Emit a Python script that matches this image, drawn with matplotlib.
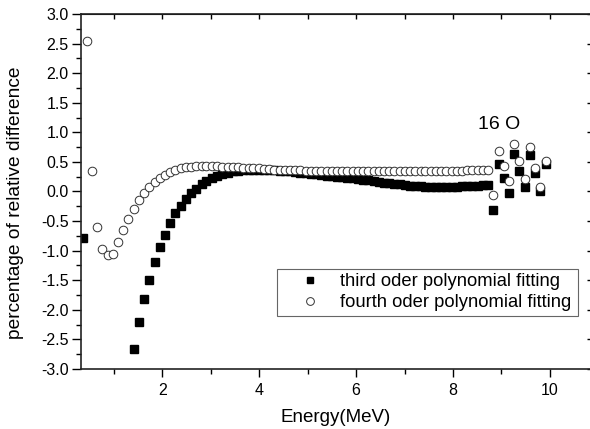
import matplotlib
matplotlib.use("Agg")
import matplotlib.pyplot as plt
from matplotlib.ticker import MultipleLocator

plt.rcParams['font.family'] = ['Liberation Sans', 'DejaVu Sans']

# energy grid (MeV) shared by both series
energy = [0.44, 0.55, 0.66, 0.76, 0.87, 0.98, 1.09, 1.19, 1.30, 1.41,
          1.52, 1.62, 1.73, 1.84, 1.95, 2.05, 2.16, 2.27, 2.38, 2.48,
          2.59, 2.70, 2.81, 2.91, 3.02, 3.13, 3.24, 3.35, 3.45, 3.56,
          3.67, 3.78, 3.88, 3.99, 4.10, 4.21, 4.31, 4.42, 4.53, 4.64,
          4.74, 4.85, 4.96, 5.07, 5.17, 5.28, 5.39, 5.50, 5.60, 5.71,
          5.82, 5.93, 6.04, 6.14, 6.25, 6.36, 6.47, 6.57, 6.68, 6.79,
          6.90, 7.00, 7.11, 7.22, 7.33, 7.43, 7.54, 7.65, 7.76, 7.86,
          7.97, 8.08, 8.19, 8.29, 8.40, 8.51, 8.62, 8.73, 8.83, 8.94,
          9.05, 9.16, 9.26, 9.37, 9.48, 9.59, 9.69, 9.80, 9.91]

# fourth order fit, relative difference (%)
fourth = [2.54, 0.34, -0.60, -0.97, -1.07, -1.06, -0.86, -0.65, -0.46, -0.29,
          -0.15, -0.03, 0.07, 0.16, 0.23, 0.28, 0.33, 0.36, 0.39, 0.41,
          0.42, 0.43, 0.43, 0.43, 0.43, 0.43, 0.42, 0.42, 0.41, 0.41,
          0.40, 0.40, 0.39, 0.39, 0.38, 0.38, 0.37, 0.37, 0.37, 0.36,
          0.36, 0.36, 0.35, 0.35, 0.35, 0.35, 0.34, 0.34, 0.34, 0.34,
          0.34, 0.34, 0.34, 0.34, 0.34, 0.34, 0.34, 0.34, 0.34, 0.34,
          0.34, 0.34, 0.34, 0.35, 0.35, 0.35, 0.35, 0.35, 0.35, 0.35,
          0.35, 0.35, 0.35, 0.36, 0.36, 0.36, 0.36, 0.36, -0.06, 0.69,
          0.43, 0.17, 0.80, 0.51, 0.21, 0.75, 0.40, 0.07, 0.51]

# third order fit (points below -3 are off the chart)
energy3 = [0.37, 1.41,
           1.52, 1.62, 1.73, 1.84, 1.95, 2.05, 2.16, 2.27, 2.38, 2.48,
           2.59, 2.70, 2.81, 2.91, 3.02, 3.13, 3.24, 3.35, 3.45, 3.56,
           3.67, 3.78, 3.88, 3.99, 4.10, 4.21, 4.31, 4.42, 4.53, 4.64,
           4.74, 4.85, 4.96, 5.07, 5.17, 5.28, 5.39, 5.50, 5.60, 5.71,
           5.82, 5.93, 6.04, 6.14, 6.25, 6.36, 6.47, 6.57, 6.68, 6.79,
           6.90, 7.00, 7.11, 7.22, 7.33, 7.43, 7.54, 7.65, 7.76, 7.86,
           7.97, 8.08, 8.19, 8.29, 8.40, 8.51, 8.62, 8.73, 8.83, 8.94,
           9.05, 9.16, 9.26, 9.37, 9.48, 9.59, 9.69, 9.80, 9.91]
third = [-0.78, -2.66,
         -2.21, -1.82, -1.49, -1.19, -0.94, -0.73, -0.54, -0.37, -0.24, -0.12,
         -0.03, 0.05, 0.12, 0.18, 0.23, 0.27, 0.30, 0.32, 0.34, 0.35,
         0.36, 0.37, 0.37, 0.37, 0.37, 0.36, 0.36, 0.35, 0.35, 0.34,
         0.33, 0.32, 0.31, 0.30, 0.29, 0.28, 0.27, 0.26, 0.25, 0.24,
         0.23, 0.22, 0.21, 0.20, 0.19, 0.17, 0.16, 0.15, 0.14, 0.13,
         0.12, 0.11, 0.10, 0.09, 0.09, 0.08, 0.08, 0.08, 0.08, 0.08,
         0.08, 0.08, 0.09, 0.09, 0.10, 0.10, 0.11, 0.11, -0.31, 0.46,
         0.22, -0.02, 0.63, 0.35, 0.07, 0.62, 0.31, 0.00, 0.47]

fig = plt.figure(figsize=(5.9, 4.29), dpi=100)
ax = fig.add_axes([0.1373, 0.1399, 0.8645, 0.8275])

ax.plot(energy3, third, linestyle="none", marker="s", ms=5.4,
        color="black", label="third oder polynomial fitting")
ax.plot(energy, fourth, linestyle="none", marker="o", ms=6.2,
        mfc="white", mec="#333333", mew=0.7, label="fourth oder polynomial fitting")

ax.text(8.96, 1.14, "16 O", fontsize=14, ha="center", va="center")

ax.set_xlim(0.32, 10.85)
ax.set_ylim(-3.0, 3.0)
ax.xaxis.set_major_locator(MultipleLocator(2))
ax.xaxis.set_minor_locator(MultipleLocator(1))
ax.yaxis.set_major_locator(MultipleLocator(0.5))
ax.yaxis.set_minor_locator(MultipleLocator(0.25))
ax.yaxis.set_major_formatter(plt.FormatStrFormatter("%.1f"))

ax.tick_params(which="both", direction="out", top=False, right=False, labelsize=11.5)
ax.tick_params(which="major", length=6, width=1)
ax.tick_params(which="minor", length=3.5, width=1)
ax.tick_params(axis="y", which="major", length=6.5, pad=2.5)
ax.tick_params(axis="x", pad=4)

# mirrored inward ticks on top / right
ax2 = ax.secondary_xaxis("top")
ax2.xaxis.set_major_locator(MultipleLocator(2))
ax2.xaxis.set_minor_locator(MultipleLocator(1))
ax2.tick_params(which="both", direction="in", labeltop=False, length=3.5, width=1)
ax3 = ax.secondary_yaxis("right")
ax3.yaxis.set_major_locator(MultipleLocator(0.5))
ax3.tick_params(which="both", direction="in", labelright=False, length=3, width=1)
ax3.yaxis.set_minor_locator(MultipleLocator(0.5))

for s in ax.spines.values():
    s.set_linewidth(1.2)
    s.set_color("#222222")

ax.set_xlabel("Energy(MeV)", fontsize=13.5, labelpad=8)
ax.set_ylabel("percentage of relative difference", fontsize=13.8)
ax.yaxis.set_label_coords(-0.112, 0.468)

leg = ax.legend(loc="lower left", bbox_to_anchor=(0.385, 0.149, 0.59, 0.136),
                mode="expand", borderaxespad=0, fontsize=13.2, frameon=True,
                fancybox=False, edgecolor="#666666", framealpha=1,
                borderpad=0.27, labelspacing=0.2, handletextpad=0.15,
                handlelength=3.0, markerscale=0.9)
leg.get_frame().set_linewidth(0.8)

fig.savefig("out.png", dpi=100)
